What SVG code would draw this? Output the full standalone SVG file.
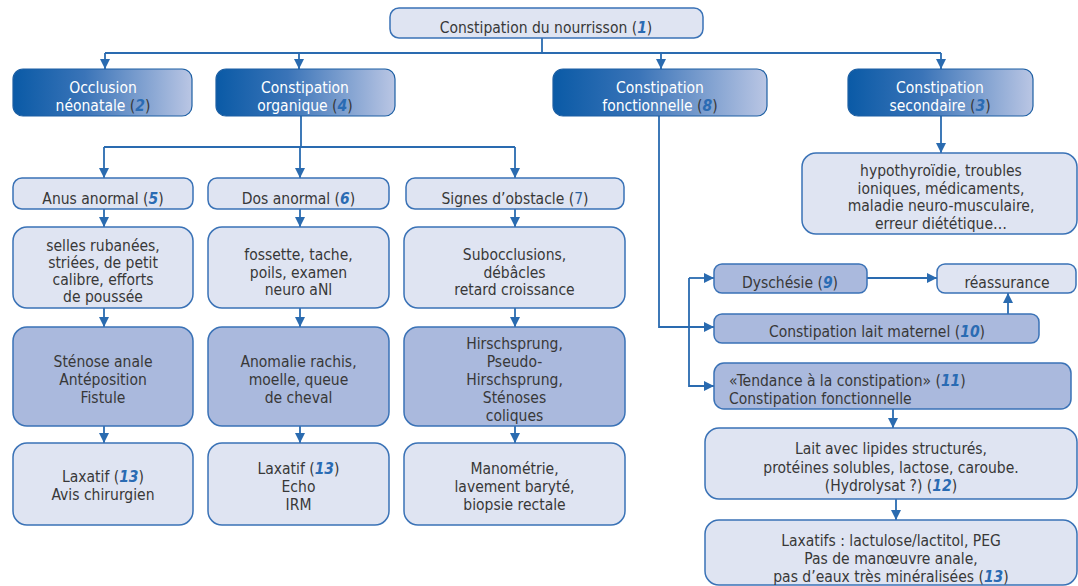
<svg xmlns="http://www.w3.org/2000/svg" width="1078" height="586" viewBox="0 0 1078 586">
<defs>
<linearGradient id="dg" x1="0" y1="0" x2="1" y2="0">
<stop offset="0" stop-color="#0a5aa6"/>
<stop offset="0.4" stop-color="#3a74b8"/>
<stop offset="1" stop-color="#bac6e4"/>
</linearGradient>
<marker id="ah" markerUnits="userSpaceOnUse" markerWidth="11" markerHeight="10" refX="10" refY="5" orient="auto">
<path d="M0,0 L10,5 L0,10 z" fill="#2a6bb0"/>
</marker>
<style>
text{font-family:"DejaVu Sans Condensed","Lato",sans-serif;font-size:15.5px;fill:#383838;text-anchor:middle}
.l{fill:#dfe4f2;stroke:#3a72b6;stroke-width:1.5}
.m{fill:#aab9dd;stroke:#3a72b6;stroke-width:1.5}
.d{fill:url(#dg);stroke:#1d5fa3;stroke-width:1.2}
.w{fill:#ffffff}
.n{fill:#2a6bb3;font-style:italic;font-weight:bold}
.p{fill:#383838}
.c path{fill:none;stroke:#2a6bb0;stroke-width:1.8}
.lft{text-anchor:start}
</style>
</defs>
<rect width="1078" height="586" fill="#ffffff"/>
<g class="c">
<path d="M542,38 V53"/>
<path d="M105,53 H941"/>
<path d="M105,53 V69" marker-end="url(#ah)"/>
<path d="M299,53 V69" marker-end="url(#ah)"/>
<path d="M661,53 V69" marker-end="url(#ah)"/>
<path d="M941,53 V69" marker-end="url(#ah)"/>
<path d="M301,116 V147"/>
<path d="M104,147 H515"/>
<path d="M104,147 V178" marker-end="url(#ah)"/>
<path d="M300,147 V178" marker-end="url(#ah)"/>
<path d="M515,147 V178" marker-end="url(#ah)"/>
<path d="M104,209 V227" marker-end="url(#ah)"/>
<path d="M300,209 V227" marker-end="url(#ah)"/>
<path d="M515,209 V227" marker-end="url(#ah)"/>
<path d="M104,308 V327" marker-end="url(#ah)"/>
<path d="M300,308 V327" marker-end="url(#ah)"/>
<path d="M515,308 V327" marker-end="url(#ah)"/>
<path d="M104,426 V443" marker-end="url(#ah)"/>
<path d="M300,426 V443" marker-end="url(#ah)"/>
<path d="M515,426 V443" marker-end="url(#ah)"/>
<path d="M941,116 V153" marker-end="url(#ah)"/>
<path d="M659,116 V327 H714" marker-end="url(#ah)"/>
<path d="M689,278 V386 H714" marker-end="url(#ah)"/>
<path d="M689,278 H714" marker-end="url(#ah)"/>
<path d="M867,278 H937" marker-end="url(#ah)"/>
<path d="M1008,314 V293" marker-end="url(#ah)"/>
<path d="M893,409 V428" marker-end="url(#ah)"/>
<path d="M896,499 V520" marker-end="url(#ah)"/>
</g>
<g id="n1"><rect class="l" x="390" y="8" width="313" height="30" rx="9"/><text x="546" y="32.5">Constipation du nourrisson (<tspan class="n">1</tspan>)</text></g>
<g id="n2"><rect class="d" x="13" y="69" width="179" height="47" rx="10"/><text class="w" x="103" y="93">Occlusion</text><text class="w" x="103" y="110.5">néonatale <tspan class="p">(</tspan><tspan class="n">2</tspan><tspan class="p">)</tspan></text></g>
<g id="n4"><rect class="d" x="216" y="69" width="179" height="47" rx="10"/><text class="w" x="305" y="93">Constipation</text><text class="w" x="305" y="110.5">organique <tspan class="p">(</tspan><tspan class="n">4</tspan><tspan class="p">)</tspan></text></g>
<g id="n8"><rect class="d" x="553" y="69" width="214" height="47" rx="10"/><text class="w" x="660" y="93">Constipation</text><text class="w" x="660" y="110.5">fonctionnelle <tspan class="p">(</tspan><tspan class="n">8</tspan><tspan class="p">)</tspan></text></g>
<g id="n3"><rect class="d" x="848" y="69" width="185" height="47" rx="10"/><text class="w" x="940" y="93">Constipation</text><text class="w" x="940" y="110.5">secondaire <tspan class="p">(</tspan><tspan class="n">3</tspan><tspan class="p">)</tspan></text></g>
<g id="n5"><rect class="l" x="13" y="178" width="180" height="31" rx="9"/><text x="103" y="204">Anus anormal (<tspan class="n">5</tspan>)</text></g>
<g id="n6"><rect class="l" x="208" y="178" width="181" height="31" rx="9"/><text x="298.5" y="204">Dos anormal (<tspan class="n">6</tspan>)</text></g>
<g id="n7"><rect class="l" x="406" y="178" width="218" height="31" rx="9"/><text x="515" y="204">Signes d’obstacle (<tspan fill="#2a5f9e">7</tspan>)</text></g>
<g id="s5"><rect class="l" x="13" y="227" width="180" height="81" rx="14"/><text x="103" y="251">selles rubanées,</text><text x="103" y="268">striées, de petit</text><text x="103" y="285">calibre, efforts</text><text x="103" y="302">de poussée</text></g>
<g id="s6"><rect class="l" x="208" y="227" width="181" height="81" rx="14"/><text x="298.5" y="260">fossette, tache,</text><text x="298.5" y="277.5">poils, examen</text><text x="298.5" y="295">neuro aNl</text></g>
<g id="s7"><rect class="l" x="404" y="227" width="221" height="81" rx="14"/><text x="514.5" y="260">Subocclusions,</text><text x="514.5" y="277.5">débâcles</text><text x="514.5" y="295">retard croissance</text></g>
<g id="d5"><rect class="m" x="13" y="327" width="180" height="99" rx="14"/><text x="103" y="367">Sténose anale</text><text x="103" y="385">Antéposition</text><text x="103" y="403">Fistule</text></g>
<g id="d6"><rect class="m" x="208" y="327" width="181" height="99" rx="14"/><text x="298.5" y="367">Anomalie rachis,</text><text x="298.5" y="385">moelle, queue</text><text x="298.5" y="403">de cheval</text></g>
<g id="d7"><rect class="m" x="404" y="327" width="221" height="99" rx="14"/><text x="514.5" y="349">Hirschsprung,</text><text x="514.5" y="367">Pseudo-</text><text x="514.5" y="385">Hirschsprung,</text><text x="514.5" y="403">Sténoses</text><text x="514.5" y="421">coliques</text></g>
<g id="t5"><rect class="l" x="13" y="443" width="180" height="82" rx="14"/><text x="103" y="482">Laxatif (<tspan class="n">13</tspan>)</text><text x="103" y="500">Avis chirurgien</text></g>
<g id="t6"><rect class="l" x="208" y="443" width="181" height="82" rx="14"/><text x="298.5" y="474">Laxatif (<tspan class="n">13</tspan>)</text><text x="298.5" y="492">Echo</text><text x="298.5" y="510">IRM</text></g>
<g id="t7"><rect class="l" x="404" y="443" width="221" height="82" rx="14"/><text x="514.5" y="474">Manométrie,</text><text x="514.5" y="492">lavement baryté,</text><text x="514.5" y="510">biopsie rectale</text></g>
<g id="sec"><rect class="l" x="802" y="153" width="275" height="81" rx="14"/><text x="941" y="176">hypothyroïdie, troubles</text><text x="941" y="193.5">ioniques, médicaments,</text><text x="941" y="211">maladie neuro-musculaire,</text><text x="941" y="228.5">erreur diététique…</text></g>
<g id="n9"><rect class="m" x="714" y="264" width="153" height="29" rx="8"/><text x="790" y="288">Dyschésie (<tspan class="n">9</tspan>)</text></g>
<g id="rea"><rect class="l" x="937" y="264" width="139" height="29" rx="8"/><text x="1007" y="288">réassurance</text></g>
<g id="n10"><rect class="m" x="714" y="314" width="325" height="29" rx="8"/><text x="877" y="337">Constipation lait maternel (<tspan class="n">10</tspan>)</text></g>
<g id="n11"><rect class="m" x="714" y="363" width="357" height="46" rx="10"/><text class="lft" x="729" y="386">«Tendance à la constipation» (<tspan class="n">11</tspan>)</text><text class="lft" x="729" y="403.5">Constipation fonctionnelle</text></g>
<g id="n12"><rect class="l" x="705" y="428" width="372" height="71" rx="14"/><text x="891" y="454">Lait avec lipides structurés,</text><text x="891" y="472.5">protéines solubles, lactose, caroube.</text><text x="891" y="491">(Hydrolysat ?) (<tspan class="n">12</tspan>)</text></g>
<g id="n13"><rect class="l" x="705" y="520" width="372" height="65" rx="14"/><text x="891" y="546">Laxatifs : lactulose/lactitol, PEG</text><text x="891" y="564">Pas de manœuvre anale,</text><text x="891" y="582">pas d’eaux très minéralisées (<tspan class="n">13</tspan>)</text></g>
</svg>
